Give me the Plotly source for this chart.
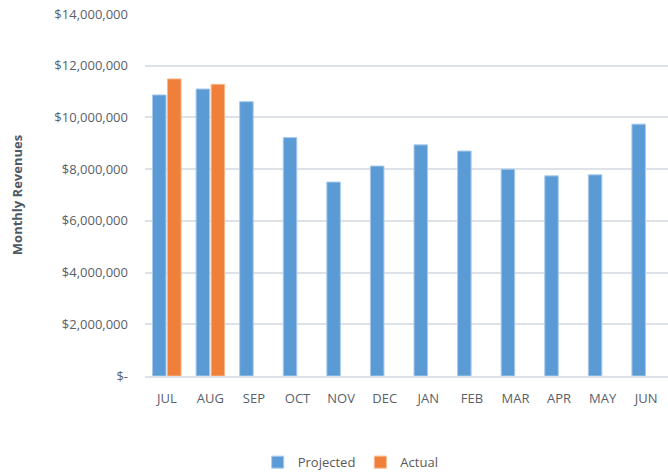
import plotly.graph_objects as go

months = ["JUL", "AUG", "SEP", "OCT", "NOV", "DEC", "JAN", "FEB", "MAR", "APR", "MAY", "JUN"]
projected = [10870000, 11100000, 10610000, 9220000, 7500000, 8120000, 8940000, 8700000, 8000000, 7740000, 7780000, 9740000]
actual = [11490000, 11280000, None, None, None, None, None, None, None, None, None, None]
tick_vals = [0, 2000000, 4000000, 6000000, 8000000, 10000000, 12000000, 14000000]
tick_text = ["$-", "$2,000,000", "$4,000,000", "$6,000,000", "$8,000,000", "$10,000,000", "$12,000,000", "$14,000,000"]

fig = go.Figure()
fig.add_trace(go.Bar(name="Projected", x=months, y=projected,
                     marker=dict(color="#5B9BD5", line=dict(color="#A9CBEA", width=1))))
fig.add_trace(go.Bar(name="Actual", x=months, y=actual,
                     marker=dict(color="#F07F3A", line=dict(color="#F7B98F", width=1))))

fig.update_layout(
    width=668, height=475,
    margin=dict(l=145, r=0, t=14, b=99),
    paper_bgcolor="white", plot_bgcolor="white",
    barmode="group", bargap=0.31, bargroupgap=0.1,
    font=dict(family="Open Sans, sans-serif", color="#595959", size=12),
    showlegend=True,
    legend=dict(orientation="h", xref="container", yref="container",
                x=0.525, xanchor="center", y=0.027, yanchor="middle",
                font=dict(size=13, color="#595959"), itemwidth=30),
    xaxis=dict(showgrid=False, showline=True, linecolor="#DDE2E8", linewidth=1.5,
               tickfont=dict(size=13, color="#5A606A"), ticks="", ticklabelstandoff=10),
    yaxis=dict(range=[0, 14000000], tickvals=tick_vals, ticktext=tick_text,
               showgrid=True, gridcolor="#DDE2E8", gridwidth=1.5, zeroline=False,
               tickfont=dict(size=13, color="#5A606A"), ticks="", ticklabelstandoff=16,
               title=dict(text="<b>Monthly Revenues</b>", font=dict(size=13, color="#4F5966"), standoff=28)),
)
fig.write_html("out.html")
